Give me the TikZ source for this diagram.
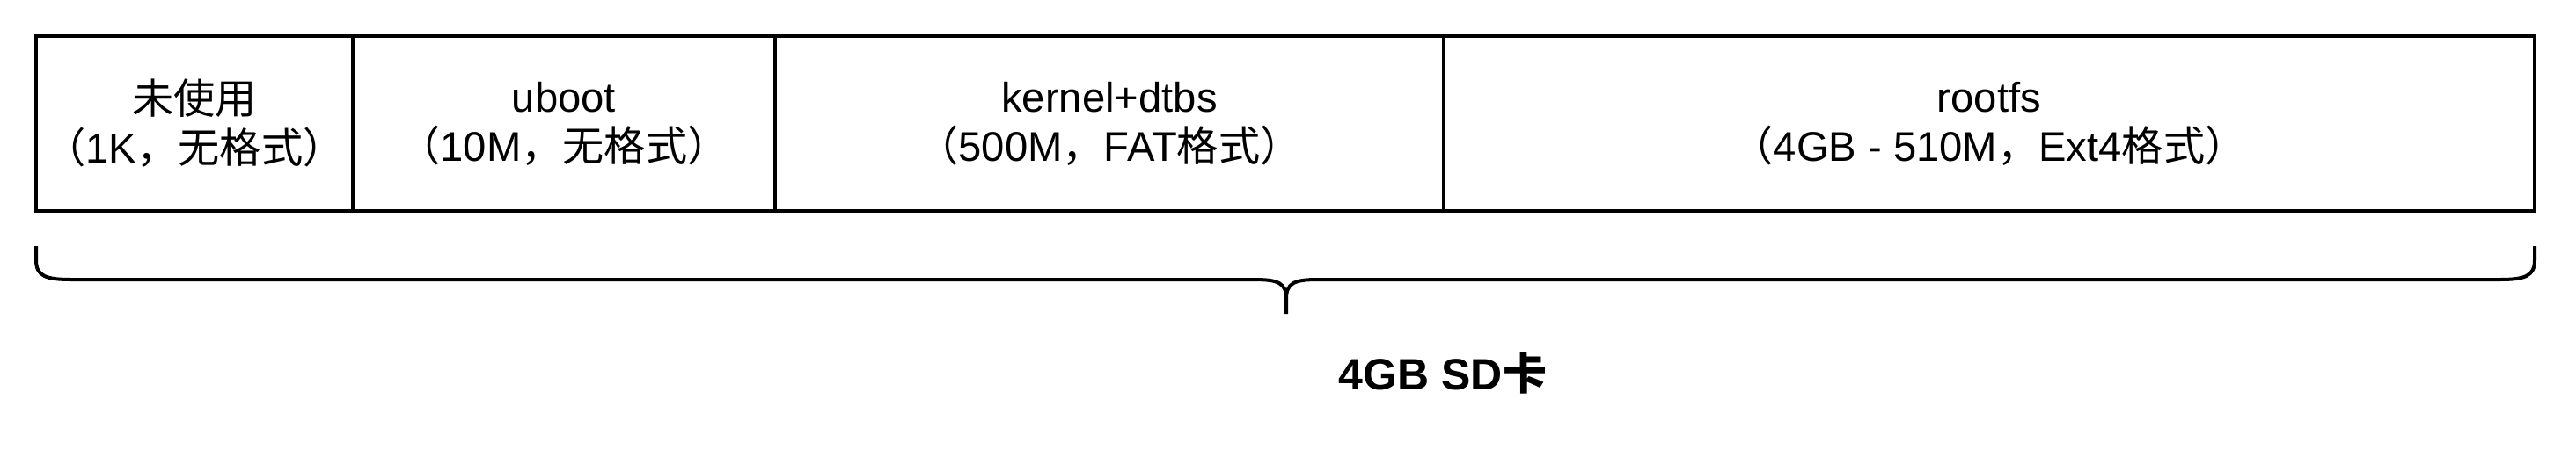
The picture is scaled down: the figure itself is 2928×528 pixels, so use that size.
\documentclass[tikz,border=0pt]{standalone}
\usepackage{fontspec}
\setmainfont{Liberation Sans}
\newfontfamily\cjk{Noto Sans CJK SC}
\newcommand{\zhtxt}[1]{{\cjk #1}}
\usetikzlibrary{arrows.meta,positioning}

\begin{document}
\begin{tikzpicture}[>=Latex,x=0.25pt,y=-0.25pt,
  part/.style={draw,line width=1pt,anchor=north west,outer sep=0pt,inner sep=0pt,
    minimum height=49.75pt,align=center,font=\fontsize{11.8}{14}\selectfont},
  brace/.style={line width=1pt}]
\useasboundingbox (0,0) rectangle (2928,528);
\node[part,minimum width=90pt] (unused) at (41,41) {\zhtxt{未使用}\\\zhtxt{（}1K\zhtxt{，无格式）}};
\node[part,minimum width=120pt] (uboot) at (unused.north east) {uboot\\\zhtxt{（}10M\zhtxt{，无格式）}};
\node[part,minimum width=190pt] (kernel) at (uboot.north east) {kernel+dtbs\\\zhtxt{（}500M\zhtxt{，}FAT\zhtxt{格式）}};
\node[part,minimum width=310pt] (rootfs) at (kernel.north east) {rootfs\\\zhtxt{（}4GB - 510M\zhtxt{，}Ext4\zhtxt{格式）}};
\draw[brace] (41,280) -- (41,296) .. controls (41,314) and (52,318) .. (81,318) -- (1426,318)
  .. controls (1453,318) and (1462,322) .. (1462,340) -- (1462,357);
\draw[brace] (1462,340) .. controls (1462,322) and (1471,318) .. (1498,318) -- (2841,318)
  .. controls (2870,318) and (2881,314) .. (2881,296) -- (2881,280);
\node[font=\bfseries\fontsize{12.5}{15}\selectfont] (card) at (1640,424) {4GB SD\zhtxt{卡}};
\end{tikzpicture}
\end{document}
